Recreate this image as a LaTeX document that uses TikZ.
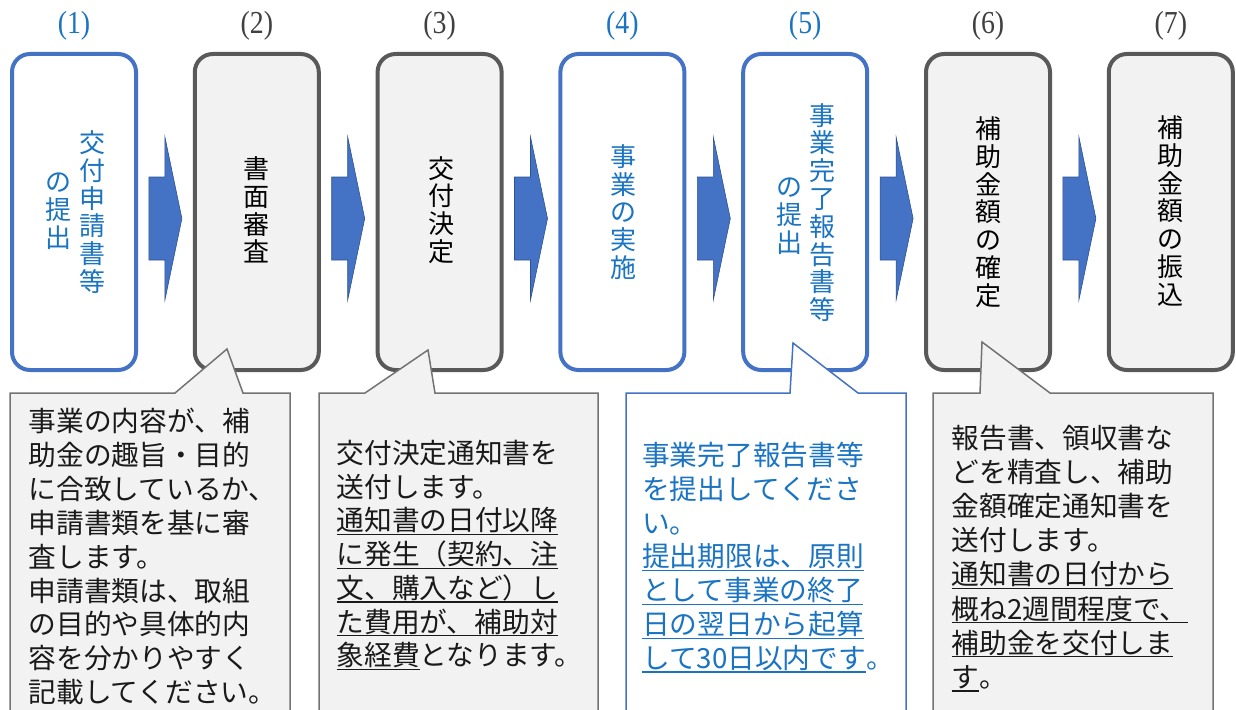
\documentclass[tikz,border=0pt]{standalone}
\usepackage{fontspec}
\newfontfamily\jp{Noto Sans CJK JP}
\newfontfamily\labfont{Liberation Serif}
\usetikzlibrary{calc}
\definecolor{bblue}{HTML}{4472C4}
\definecolor{tblue}{HTML}{1A74C2}
\definecolor{gborder}{HTML}{595959}
\definecolor{gfill}{HTML}{F2F2F2}
\definecolor{cborder}{HTML}{737373}
\definecolor{adark}{HTML}{2F528F}
\definecolor{ctext}{HTML}{1A1A1A}
\definecolor{lgray}{HTML}{404040}
\newcommand\myul[1]{\setbox0\hbox{#1}\rlap{\rule[-4.3pt]{\wd0}{1.3pt}}\box0}
\tikzset{
  stepbox/.style={rounded corners=18pt, line width=4pt, minimum width=124pt, minimum height=316pt, inner sep=0pt},
  graybox/.style={stepbox, draw=gborder, fill=gfill},
  bluebox/.style={stepbox, draw=bblue, fill=white},
  vtext/.style={font=\jp\fontsize{26}{27.8}\selectfont, align=center, inner sep=0pt},
  steplabel/.style={font=\labfont\fontsize{32}{32}\selectfont, inner sep=0pt},
  blockarr/.style={fill=bblue, draw=adark, line width=0.6pt, line join=miter},
  callg/.style={fill=gfill, draw=cborder, line width=1.5pt, line join=miter},
  callb/.style={fill=white, draw=bblue, line width=1.5pt, line join=miter},
  ctxt/.style={font=\jp\fontsize{27.7}{34}\selectfont, inner sep=0pt, anchor=base west},
}
\newcommand\blockarrow[2]{%
  \begin{scope}[shift={($(#1.east)!0.5!(#2.west)$)}]
    \draw[blockarr] (-16.5,-35) -- (-0.5,-35) -- (-0.5,-75) -- (16.5,6.5) -- (-0.5,88) -- (-0.5,48) -- (-16.5,48) -- cycle;
  \end{scope}}
\newcommand\calltext[6]{%
  \foreach \t [count=\i from 0] in {#6} {
    \node[ctxt, #5, name=#1-\i] at (#2, #3+\i*#4) {\t};
  }}
\newcommand\labtxt[1]{\scalebox{0.87}[1]{(#1)}}
\begin{document}
\begin{tikzpicture}[x=1pt,y=-1pt]
\useasboundingbox (0,0) rectangle (1236,709);
% step boxes
\node[bluebox] (b1) at (74,212) {};
\node[graybox] (b2) at (256.8,212) {};
\node[graybox] (b3) at (439.6,212) {};
\node[bluebox] (b4) at (622.4,212) {};
\node[bluebox] (b5) at (805.2,212) {};
\node[graybox] (b6) at (988,212) {};
\node[graybox] (b7) at (1170.8,212) {};
% step labels
\node[steplabel, text=tblue] (l1) at (74,26) {\labtxt{1}};
\node[steplabel, text=lgray] (l2) at (256.8,26) {\labtxt{2}};
\node[steplabel, text=lgray] (l3) at (439.6,26) {\labtxt{3}};
\node[steplabel, text=tblue] (l4) at (622.4,26) {\labtxt{4}};
\node[steplabel, text=tblue] (l5) at (805.2,26) {\labtxt{5}};
\node[steplabel, text=lgray] (l6) at (988,26) {\labtxt{6}};
\node[steplabel, text=lgray] (l7) at (1170.8,26) {\labtxt{7}};
% vertical texts
\node[vtext, text=tblue] (t1a) at (92,212) {交\\付\\申\\請\\書\\等};
\node[vtext, text=tblue] (t1b) at (58.5,211) {の\\提\\出};
\node[vtext, text=black] (t2) at (256.8,210) {書\\面\\審\\査};
\node[vtext, text=black] (t3) at (441,210) {交\\付\\決\\定};
\node[vtext, text=tblue] (t4) at (623,212) {事\\業\\の\\実\\施};
\node[vtext, text=tblue] (t5a) at (822,212.5) {事\\業\\完\\了\\報\\告\\書\\等};
\node[vtext, text=tblue] (t5b) at (789,216) {の\\提\\出};
\node[vtext, text=black] (t6) at (988,212) {補\\助\\金\\額\\の\\確\\定};
\node[vtext, text=black] (t7) at (1170.5,211) {補\\助\\金\\額\\の\\振\\込};
% block arrows
\blockarrow{b1}{b2}
\blockarrow{b2}{b3}
\blockarrow{b3}{b4}
\blockarrow{b4}{b5}
\blockarrow{b5}{b6}
\blockarrow{b6}{b7}
% callouts
\filldraw[callg] (10,393) -- (175,393) -- (227,349) -- (243,393) -- (290,393) -- (290,716) -- (10,716) -- cycle;
\filldraw[callg] (319,393) -- (365,393) -- (428,350) -- (435,393) -- (598,393) -- (598,716) -- (319,716) -- cycle;
\filldraw[callb] (626,393) -- (790,393) -- (793,343) -- (858,393) -- (906,393) -- (906,716) -- (626,716) -- cycle;
\filldraw[callg] (933,393) -- (980,393) -- (982,342) -- (1050,393) -- (1213,393) -- (1213,716) -- (933,716) -- cycle;
% callout texts
\calltext{c1}{28.5}{431.5}{33.9}{text=ctext}{事業の内容が、補,助金の趣旨・目的,に合致しているか、,申請書類を基に審,査します。,申請書類は、取組,の目的や具体的内,容を分かりやすく,記載してください。}
\calltext{c2}{336.5}{463.5}{33.7}{text=ctext}{交付決定通知書を,送付します。,\myul{通知書の日付以降},\myul{に発生（契約、注},\myul{文、購入など）し},\myul{た費用が、補助対},\myul{象経費}となります。}
\calltext{c3}{642}{465.5}{33.8}{text=tblue}{事業完了報告書等,を提出してくださ,い。,\myul{提出期限は、原則},\myul{として事業の終了},\myul{日の翌日から起算},\myul{して30日以内です}。}
\calltext{c4}{951.5}{448.5}{34.1}{text=ctext}{報告書、領収書な,どを精査し、補助,金額確定通知書を,送付します。,\myul{通知書の日付から},\myul{概ね2週間程度で、},\myul{補助金を交付しま},\myul{す}。}
\end{tikzpicture}
\end{document}
